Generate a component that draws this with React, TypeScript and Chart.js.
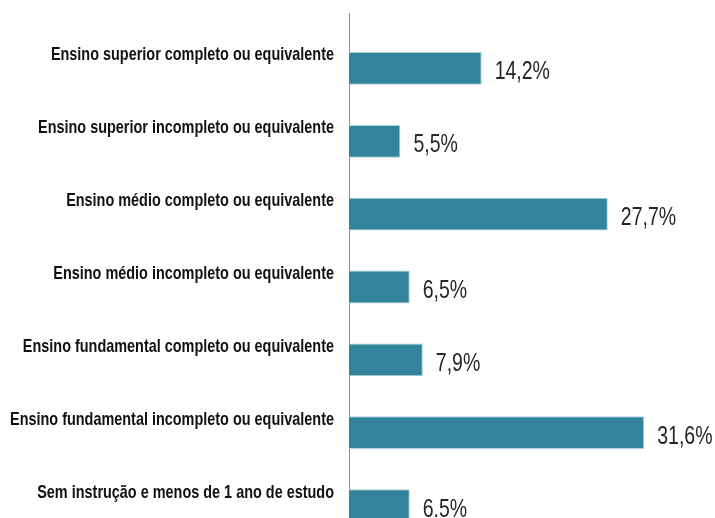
import React, { useEffect, useRef } from "react";
import { Chart, registerables } from "chart.js";

Chart.register(...registerables);

const categories = [
  "Ensino superior completo ou equivalente",
  "Ensino superior incompleto ou equivalente",
  "Ensino médio completo ou equivalente",
  "Ensino médio incompleto ou equivalente",
  "Ensino fundamental completo ou equivalente",
  "Ensino fundamental incompleto ou equivalente",
  "Sem instrução e menos de 1 ano de estudo",
];
const values = [14.2, 5.5, 27.7, 6.5, 7.9, 31.6, 6.5];
const valueLabels = ["14,2%", "5,5%", "27,7%", "6,5%", "7,9%", "31,6%", "6.5%"];
const xMax = 35;

const SANS = "'Liberation Sans', Arial, sans-serif";

function drawSqueezed(ctx: CanvasRenderingContext2D, text: string, x: number, y: number, align: "left" | "right", sx: number) {
  ctx.save();
  ctx.translate(x, y);
  ctx.scale(sx, 1);
  ctx.textAlign = align;
  ctx.textBaseline = "alphabetic";
  ctx.fillText(text, 0, 0);
  ctx.restore();
}

const axisLinePlugin = {
  id: "axisLine",
  beforeDatasetsDraw(chart: any) {
    const { ctx, chartArea } = chart;
    const x = Math.round(chartArea.left) + 0.5;
    ctx.save();
    ctx.strokeStyle = "#8c8c8c";
    ctx.lineWidth = 1;
    ctx.beginPath();
    ctx.moveTo(x, 5);
    ctx.lineTo(x, chart.height);
    ctx.stroke();
    ctx.restore();
  },
};

const labelPlugin = {
  id: "labels",
  afterDatasetsDraw(chart: any) {
    const { ctx, chartArea } = chart;
    const yScale = chart.scales.y;
    const meta = chart.getDatasetMeta(0);
    ctx.save();
    ctx.font = `bold 19px ${SANS}`;
    ctx.fillStyle = "#111111";
    const widest = Math.max(...categories.map((c) => ctx.measureText(c).width));
    const sxCat = 324 / widest;
    categories.forEach((c, i) => {
      const y = yScale.getPixelForValue(i);
      drawSqueezed(ctx, c, chartArea.left - 15, y - 8, "right", sxCat);
    });
    ctx.font = `25px ${SANS}`;
    ctx.fillStyle = "#262626";
    meta.data.forEach((bar: any, i: number) => {
      drawSqueezed(ctx, valueLabels[i], bar.x + 13, bar.y + 11, "left", 0.78);
    });
    ctx.restore();
  },
};

export default function App() {
  const ref = useRef<HTMLCanvasElement>(null);
  useEffect(() => {
    document.documentElement.style.overflow = "hidden";
    document.body.style.margin = "0";
    const chart = new Chart(ref.current!, {
      type: "bar",
      data: {
        labels: categories,
        datasets: [
          {
            data: values,
            backgroundColor: "#31849B",
            borderColor: "#a8d2dc",
            borderWidth: 1,
            borderSkipped: "start",
            barPercentage: 0.45,
            categoryPercentage: 1,
          },
        ],
      },
      options: {
        indexAxis: "y",
        animation: false,
        responsive: false,
        devicePixelRatio: 1,
        layout: { padding: { top: 24, bottom: 12, right: 39, left: 0 } },
        plugins: { legend: { display: false }, tooltip: { enabled: false } },
        scales: {
          x: { display: false, min: 0, max: xMax },
          y: {
            grid: { display: false, drawTicks: false },
            border: { display: false },
            ticks: { display: false },
            afterFit: (scale: any) => {
              scale.width = 341;
              scale.paddingTop = 0;
              scale.paddingBottom = 0;
            },
          },
        },
      },
      plugins: [axisLinePlugin, labelPlugin],
    });
    return () => chart.destroy();
  }, []);
  return (
    <div
      style={{
        width: 715,
        height: 518,
        paddingLeft: 8,
        paddingTop: 8,
        boxSizing: "border-box",
        overflow: "hidden",
      }}
    >
      <canvas ref={ref} width={707} height={546} style={{ display: "block" }} />
    </div>
  );
}
